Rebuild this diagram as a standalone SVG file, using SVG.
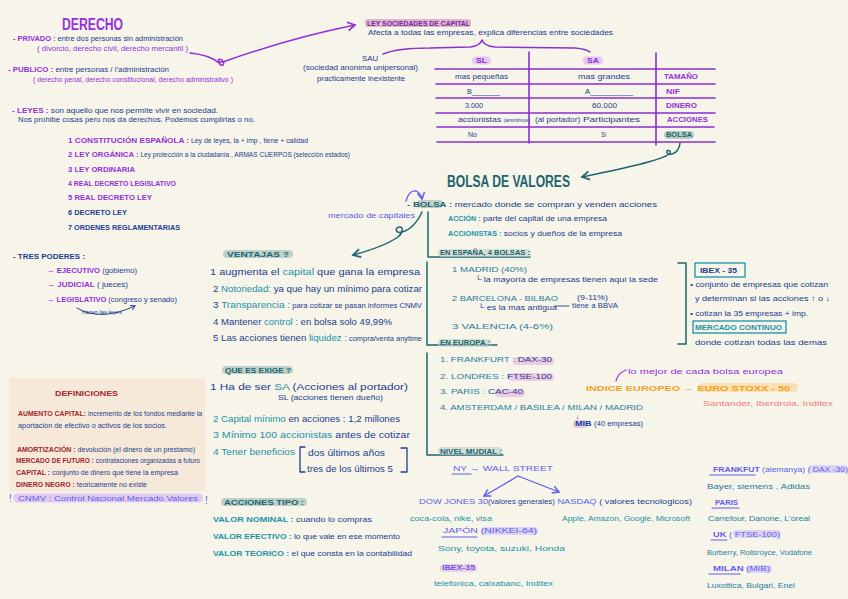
<svg xmlns="http://www.w3.org/2000/svg" width="848" height="599" viewBox="0 0 848 599">
<defs>
<style>
text{font-family:"Liberation Sans",Arial,sans-serif;font-size:7.5px;fill:#22408f}
.p{fill:#9330dc}.n{fill:#22408f}.t{fill:#1c6571}.c{fill:#1b93a8}.tb{fill:#1e80a2}.v{fill:#5d5ff0}.o{fill:#f3a01e}.s{fill:#f2807c}.r{fill:#a3262b}.dp{fill:#7a2b8c}
.b{font-weight:bold}
.sm{font-size:6.3px}
.m{font-size:8.2px}
.ln{fill:none;stroke-linecap:round;stroke-linejoin:round}
.tab{stroke:#8a2fd0;stroke-width:1.6}
.tl{stroke:#1c6571;stroke-width:1.5}
.hg{fill:#bfd0c8}
.hp{fill:#efcbe4}
.hl{fill:#e3c9f2}
</style>
<marker id="aP" viewBox="0 0 10 10" refX="8" refY="5" markerWidth="7" markerHeight="7" orient="auto"><path d="M1,1 L8,5 L1,9" fill="none" stroke="#9330dc" stroke-width="1.6"/></marker>
<marker id="aT" viewBox="0 0 10 10" refX="8" refY="5" markerWidth="7" markerHeight="7" orient="auto"><path d="M1,1 L8,5 L1,9" fill="none" stroke="#1c6571" stroke-width="1.6"/></marker>
<marker id="aV" viewBox="0 0 10 10" refX="8" refY="5" markerWidth="7" markerHeight="7" orient="auto"><path d="M1,1 L8,5 L1,9" fill="none" stroke="#5d5ff0" stroke-width="1.6"/></marker>
<marker id="aN" viewBox="0 0 10 10" refX="8" refY="5" markerWidth="6" markerHeight="6" orient="auto"><path d="M1,1 L8,5 L1,9" fill="none" stroke="#22408f" stroke-width="1.6"/></marker>
</defs>
<rect width="848" height="599" fill="#f7f4e9"/>

<g id="connectors">
<path class="ln" stroke="#9330dc" stroke-width="1.5" d="M190,53 Q210,55 219,63 C222,68 226,64 222,60 C218,57 216,63 223,62 Q290,38 355,25" marker-end="url(#aP)"/>
<path class="ln" stroke="#8a2fd0" stroke-width="1.5" d="M383,54 Q398,48 430,48 L470,47 Q480,46 482,40 Q484,46 495,47 L575,48 Q586,49 590,52"/>
<path class="ln tl" d="M680,143 C679,151 674,155 669,154 C665,153 667,149 670,151 C674,157 640,165 582,177" marker-end="url(#aT)"/>
<path class="ln" stroke="#5d5ff0" stroke-width="1.3" d="M406,201 Q409,190 416,191 Q421,193 422,199" marker-end="url(#aV)"/>
<path class="ln tl" d="M422,212 C418,222 410,230 402,232 C396,234 394,228 399,227 C404,226 403,233 398,237 C385,246 368,251 353,255" marker-end="url(#aT)"/>
<path class="ln" stroke="#22408f" stroke-width="1" d="M77,308 Q100,322 135,306" marker-end="url(#aN)"/>
<path class="ln" stroke="#5d5ff0" stroke-width="1.3" d="M518,476 L484,496" marker-end="url(#aV)"/>
<path class="ln" stroke="#5d5ff0" stroke-width="1.3" d="M518,476 L559,492" marker-end="url(#aV)"/>
<path class="ln" stroke="#9330dc" stroke-width="1.2" d="M616,381 Q618,373 626,370"/>
<path class="ln" stroke="#22408f" stroke-width="0.9" d="M555,306 L569,306"/>
</g>

<g id="derecho">
<text x="62" y="30" class="p b" style="font-size:16px" textLength="61" lengthAdjust="spacingAndGlyphs">DERECHO</text>
<text x="13" y="41" textLength="170" lengthAdjust="spacingAndGlyphs"><tspan class="p b">- PRIVADO :</tspan> entre dos personas sin administración</text>
<text x="37" y="50.5" class="p sm" textLength="151" lengthAdjust="spacingAndGlyphs">( divorcio, derecho civil, derecho mercantil )</text>
<text x="8" y="71.5" textLength="161" lengthAdjust="spacingAndGlyphs"><tspan class="p b">- PUBLICO :</tspan> entre personas / l'administración</text>
<text x="33" y="81.5" class="p sm" textLength="200" lengthAdjust="spacingAndGlyphs">( derecho penal, derecho constitucional, derecho administrativo )</text>
<text x="12" y="112.5" textLength="206" lengthAdjust="spacingAndGlyphs"><tspan class="p b">- LEYES :</tspan> son aquello que nos permite vivir en sociedad.</text>
<text x="18" y="121.5" textLength="237" lengthAdjust="spacingAndGlyphs">Nos prohibe cosas pero nos da derechos. Podemos cumplirlas o no.</text>
<text x="68" y="142.5" textLength="240" lengthAdjust="spacingAndGlyphs"><tspan class="p b">1   CONSTITUCIÓN ESPAÑOLA :</tspan><tspan class="sm"> Ley de leyes, la + imp ,  tiene + calidad</tspan></text>
<text x="68" y="157" textLength="282" lengthAdjust="spacingAndGlyphs"><tspan class="p b">2   LEY ORGÁNICA :</tspan><tspan class="sm"> Ley protección a la ciudadanía , ARMAS CUERPOS (selección estados)</tspan></text>
<text x="68" y="171.5" class="p b" textLength="67" lengthAdjust="spacingAndGlyphs">3   LEY ORDINARIA</text>
<text x="68" y="186" class="p b" textLength="108" lengthAdjust="spacingAndGlyphs">4   REAL DECRETO LEGISLATIVO</text>
<text x="68" y="200" class="p b" textLength="84" lengthAdjust="spacingAndGlyphs">5   REAL DECRETO LEY</text>
<text x="68" y="214.5" class="n b" textLength="59" lengthAdjust="spacingAndGlyphs">6   DECRETO LEY</text>
<text x="68" y="229.5" class="n b" textLength="112" lengthAdjust="spacingAndGlyphs">7   ORDENES REGLAMENTARIAS</text>
</g>

<g id="poderes">
<text x="13" y="258.5" class="n b" textLength="72" lengthAdjust="spacingAndGlyphs">- TRES PODERES :</text>
<text x="47" y="272.5" textLength="90" lengthAdjust="spacingAndGlyphs"><tspan class="p b">→ EJECUTIVO</tspan> (gobierno)</text>
<text x="47" y="287" textLength="81" lengthAdjust="spacingAndGlyphs"><tspan class="p b">→ JUDICIAL</tspan> ( jueces)</text>
<text x="47" y="301.5" textLength="130" lengthAdjust="spacingAndGlyphs"><tspan class="p b">→ LEGISLATIVO</tspan> (congreso y senado)</text>
<text x="82" y="314" style="font-size:4.5px" textLength="40" lengthAdjust="spacingAndGlyphs">hacen las leyes</text>
</g>

<g id="definiciones">
<rect x="9" y="378" width="196" height="113" fill="#f6e9d9"/>
<text x="55" y="395.5" class="r b" style="font-size:8px" textLength="63" lengthAdjust="spacingAndGlyphs">DEFINICIONES</text>
<text x="18" y="415.5" class="sm" textLength="184" lengthAdjust="spacingAndGlyphs"><tspan class="r b">AUMENTO CAPITAL:</tspan> incremento de los fondos mediante la</text>
<text x="18" y="427.5" class="sm" textLength="149" lengthAdjust="spacingAndGlyphs">aportación de efectivo o activos de los socios.</text>
<text x="17" y="451.5" class="sm" textLength="178" lengthAdjust="spacingAndGlyphs"><tspan class="r b">AMORTIZACIÓN :</tspan>  devolución (el dinero de un prestamo)</text>
<text x="16" y="463" class="sm" textLength="184" lengthAdjust="spacingAndGlyphs"><tspan class="r b">MERCADO DE FUTURO :</tspan> contrataciones organizadas a futuro</text>
<text x="16" y="475" class="sm" textLength="162" lengthAdjust="spacingAndGlyphs"><tspan class="r b">CAPITAL :</tspan> conjunto de dinero que tiene la empresa</text>
<text x="16" y="486.5" class="sm" textLength="131" lengthAdjust="spacingAndGlyphs"><tspan class="r b">DINERO NEGRO :</tspan> teoricamente no existe</text>
<rect x="13" y="493.5" width="190" height="9" rx="4.5" fill="#e2cbef"/>
<text x="9" y="502" class="v" style="font-size:10px">!</text>
<text x="18" y="501" class="v" textLength="180" lengthAdjust="spacingAndGlyphs">CNMV :  Control Nacional Mercado Valores</text>
<text x="205" y="504" class="v" style="font-size:10px">!</text>
</g>

<g id="ley-sociedades">
<rect x="365" y="19" width="106" height="8" rx="3" fill="#dcb5d6"/>
<text x="367" y="25.5" class="dp b" textLength="103" lengthAdjust="spacingAndGlyphs">LEY SOCIEDADES DE CAPITAL</text>
<text x="368" y="34.5" textLength="245" lengthAdjust="spacingAndGlyphs">Afecta a todas las empresas, explica diferencias entre sociedades</text>
</g>

<g id="sau">
<text x="362" y="60.5" class="n" textLength="16" lengthAdjust="spacingAndGlyphs">SAU</text>
<text x="303" y="69.5" textLength="115" lengthAdjust="spacingAndGlyphs">(sociedad anonima unipersonal)</text>
<text x="317" y="80.5" textLength="88" lengthAdjust="spacingAndGlyphs">practicamente inexistente</text>
</g>

<g id="tabla">
<g class="ln tab">
<path d="M529,52 V143 M656,53 V145"/>
<path d="M435,69 H715 M436,84 H715 M436,98 H715 M436,113 H715 M437,127 H714 M437,142 H715"/>
</g>
<rect x="472" y="56.5" width="19" height="8" rx="4" fill="#e6c8f0"/>
<rect x="583" y="56.5" width="20" height="8" rx="4" fill="#e6c8f0"/>
<text x="476" y="62.5" class="p b" textLength="11" lengthAdjust="spacingAndGlyphs">SL</text>
<text x="587" y="62.5" class="p b" textLength="12" lengthAdjust="spacingAndGlyphs">SA</text>
<text x="455" y="79" textLength="53" lengthAdjust="spacingAndGlyphs">mas pequeñas</text>
<text x="578" y="79" textLength="52" lengthAdjust="spacingAndGlyphs">mas grandes</text>
<text x="664" y="79" class="p b" textLength="34" lengthAdjust="spacingAndGlyphs">TAMAÑO</text>
<text x="467" y="93.5" textLength="33" lengthAdjust="spacingAndGlyphs">B_______</text>
<text x="585" y="93.5" textLength="48" lengthAdjust="spacingAndGlyphs">A__________</text>
<text x="666" y="93.5" class="p b" textLength="14" lengthAdjust="spacingAndGlyphs">NIF</text>
<text x="465" y="108" textLength="18" lengthAdjust="spacingAndGlyphs">3.000</text>
<text x="592" y="108" textLength="25" lengthAdjust="spacingAndGlyphs">60.000</text>
<text x="666" y="108" class="p b" textLength="31" lengthAdjust="spacingAndGlyphs">DINERO</text>
<text x="458" y="122" textLength="72" lengthAdjust="spacingAndGlyphs">accionistas <tspan style="font-size:4.5px">(anonimos)</tspan></text>
<text x="535" y="122" textLength="105" lengthAdjust="spacingAndGlyphs"><tspan class="sm">(al portador)</tspan>   Participantes</text>
<text x="667" y="122" class="p b" textLength="41" lengthAdjust="spacingAndGlyphs">ACCIONES</text>
<text x="468" y="137" textLength="9" lengthAdjust="spacingAndGlyphs">No</text>
<text x="601" y="137" textLength="5" lengthAdjust="spacingAndGlyphs">Si</text>
<rect x="664" y="131" width="30" height="8" rx="4" fill="#b9ccc6"/>
<text x="666" y="137" class="t b" textLength="26" lengthAdjust="spacingAndGlyphs">BOLSA</text>
</g>

<g id="bolsa">
<text x="447" y="187" class="t b" style="font-size:16px" textLength="123" lengthAdjust="spacingAndGlyphs">BOLSA DE VALORES</text>
<text x="328" y="217.5" class="v" textLength="87" lengthAdjust="spacingAndGlyphs">mercado de capitales</text>
<rect x="417" y="200" width="26" height="8" rx="4" class="hg"/>
<text x="407" y="206.5" textLength="250" lengthAdjust="spacingAndGlyphs"><tspan class="t b">- BOLSA :</tspan> mercado donde se compran y venden acciones</text>
<text x="448" y="221" textLength="159" lengthAdjust="spacingAndGlyphs"><tspan class="c b sm">ACCIÓN :</tspan> parte del capital de una empresa</text>
<text x="448" y="236" textLength="174" lengthAdjust="spacingAndGlyphs"><tspan class="c b sm">ACCIONISTAS :</tspan> socios y dueños de la empresa</text>
<path class="ln tl" d="M428,212 V257 H530"/>
</g>

<g id="espana">
<rect x="438" y="249" width="93" height="8" rx="3" class="hg" opacity="0.6"/>
<text x="440" y="255" class="t b" textLength="90" lengthAdjust="spacingAndGlyphs">EN ESPAÑA, 4 BOLSAS :</text>
<path class="ln tl" d="M427,262 V345 H497"/>
<text x="452" y="272" class="tb" textLength="75" lengthAdjust="spacingAndGlyphs">1   MADRID   (40%)</text>
<text x="475" y="282" textLength="183" lengthAdjust="spacingAndGlyphs">└ la mayoría de empresas tienen aquí la sede</text>
<text x="452" y="301" class="tb" textLength="106" lengthAdjust="spacingAndGlyphs">2   BARCELONA - BILBAO</text>
<text x="577" y="299.5" textLength="31" lengthAdjust="spacingAndGlyphs">(9-11%)</text>
<text x="478" y="310" textLength="79" lengthAdjust="spacingAndGlyphs">└ es la mas antigua</text>
<text x="572" y="308" class="sm" textLength="46" lengthAdjust="spacingAndGlyphs">tiene a BBVA</text>
<text x="452" y="329" class="tb" textLength="101" lengthAdjust="spacingAndGlyphs">3   VALENCIA   (4-6%)</text>
<rect x="438" y="339" width="53" height="8" rx="3" class="hg" opacity="0.6"/>
<text x="440" y="344.5" class="t b" textLength="50" lengthAdjust="spacingAndGlyphs">EN EUROPA :</text>
</g>

<g id="ibex">
<path class="ln tl" d="M678,263 H686 V344 H678"/>
<rect x="695" y="263" width="50" height="14" fill="none" stroke="#1b93a8" stroke-width="1.3"/>
<text x="700" y="272.5" class="n b" textLength="37" lengthAdjust="spacingAndGlyphs">IBEX - 35</text>
<text x="690" y="287" textLength="138" lengthAdjust="spacingAndGlyphs">• conjunto de empresas que cotizan</text>
<text x="695" y="301" textLength="135" lengthAdjust="spacingAndGlyphs">y determinan si las acciones ↑ o ↓</text>
<text x="690" y="315.5" textLength="118" lengthAdjust="spacingAndGlyphs">• cotizan la 35 empresas + imp.</text>
<rect x="693" y="321" width="93" height="12" fill="none" stroke="#1b93a8" stroke-width="1.3"/>
<text x="695" y="330" class="c b" textLength="87" lengthAdjust="spacingAndGlyphs">MERCADO CONTINUO</text>
<text x="695" y="344.5" textLength="132" lengthAdjust="spacingAndGlyphs">donde cotizan todas las demas</text>
</g>

<g id="europa">
<path class="ln tl" d="M427,353 V455 H503"/>
<rect x="513" y="357" width="41" height="8" rx="4" class="hp"/>
<text x="440" y="362" class="tb" textLength="112" lengthAdjust="spacingAndGlyphs">1. FRANKFURT :  <tspan class="n">DAX-30</tspan></text>
<rect x="508" y="373" width="46" height="8" rx="4" class="hp"/>
<text x="440" y="378.5" class="tb" textLength="112" lengthAdjust="spacingAndGlyphs">2. LONDRES :  <tspan class="n">FTSE-100</tspan></text>
<rect x="495" y="389" width="30" height="8" rx="4" class="hp"/>
<text x="440" y="394" class="tb" textLength="83" lengthAdjust="spacingAndGlyphs">3. PARIS :  <tspan class="n">CAC-40</tspan></text>
<text x="440" y="410" class="tb" textLength="203" lengthAdjust="spacingAndGlyphs">4. AMSTERDAM / BASILEA / MILAN / MADRID</text>
<text x="576" y="419" class="n sm">↓</text>
<rect x="573" y="420" width="15" height="8" rx="4" class="hl"/>
<text x="575" y="425.5" textLength="68" lengthAdjust="spacingAndGlyphs"><tspan class="b">MIB</tspan> <tspan class="sm">(40 empresas)</tspan></text>
</g>

<g id="indice-europeo">
<text x="628" y="374" class="p" textLength="155" lengthAdjust="spacingAndGlyphs">lo mejor de cada bolsa europea</text>
<rect x="698" y="383" width="100" height="9" rx="4.5" fill="#fbe0b3"/>
<text x="586" y="390.5" class="o b" textLength="204" lengthAdjust="spacingAndGlyphs">INDICE EUROPEO  →  EURO STOXX - 50</text>
<text x="703" y="405.5" class="s" textLength="130" lengthAdjust="spacingAndGlyphs">Santander, Iberdrola, Inditex</text>
</g>

<g id="ventajas">
<rect x="223" y="250" width="70" height="8" rx="4" class="hg"/>
<text x="227" y="256.5" class="t b" textLength="62" lengthAdjust="spacingAndGlyphs">VENTAJAS ?</text>
<text x="210" y="274.5" class="m" textLength="210" lengthAdjust="spacingAndGlyphs">1  augmenta el <tspan class="c">capital</tspan> que gana la empresa</text>
<text x="213" y="291.5" class="m" textLength="209" lengthAdjust="spacingAndGlyphs">2 <tspan class="c">Notoriedad:</tspan> ya que hay un mínimo para cotizar</text>
<text x="213" y="307.5" class="m" textLength="209" lengthAdjust="spacingAndGlyphs">3 <tspan class="c">Transparencia :</tspan><tspan class="sm"> para cotizar se pasan informes CNMV</tspan></text>
<text x="213" y="324.5" class="m" textLength="179" lengthAdjust="spacingAndGlyphs">4 Mantener <tspan class="c">control :</tspan>  en bolsa  solo 49,99%</text>
<text x="213" y="341" class="m" textLength="209" lengthAdjust="spacingAndGlyphs">5 Las acciones tienen <tspan class="c">liquidez :</tspan><tspan class="sm"> compra/venta anytime</tspan></text>
</g>

<g id="exige">
<rect x="222" y="366" width="71" height="8" rx="4" class="hg"/>
<text x="225" y="372.5" class="t b" textLength="66" lengthAdjust="spacingAndGlyphs">QUE ES  EXIGE ?</text>
<text x="210" y="389.5" class="m" textLength="198" lengthAdjust="spacingAndGlyphs">1  Ha de ser <tspan class="c">SA</tspan>  (Acciones al portador)</text>
<text x="278" y="399.5" class="sm" textLength="105" lengthAdjust="spacingAndGlyphs">SL (acciones tienen dueño)</text>
<text x="213" y="421.5" class="m c" textLength="187" lengthAdjust="spacingAndGlyphs">2  Capital mínimo <tspan class="n">en acciones : 1,2 millones</tspan></text>
<text x="213" y="437.5" class="m c" textLength="197" lengthAdjust="spacingAndGlyphs">3  Mínimo 100 accionistas <tspan class="n">antes de cotizar</tspan></text>
<text x="213" y="454.5" class="m c" textLength="82" lengthAdjust="spacingAndGlyphs">4  Tener beneficios</text>
<path class="ln" stroke="#22408f" stroke-width="1.3" d="M305,447 H300 V472 H305 M401,448 H407 V472 H401"/>
<text x="308" y="455.5" class="m" textLength="77" lengthAdjust="spacingAndGlyphs">dos últimos años</text>
<text x="307" y="471.5" class="m" textLength="86" lengthAdjust="spacingAndGlyphs">tres de los últimos 5</text>
</g>

<g id="acciones-tipo">
<rect x="221" y="498" width="86" height="8" rx="4" class="hg"/>
<text x="224" y="504.5" class="t b" textLength="80" lengthAdjust="spacingAndGlyphs">ACCIONES TIPO :</text>
<text x="213" y="521.5" textLength="159" lengthAdjust="spacingAndGlyphs"><tspan class="c b">VALOR NOMINAL :</tspan>  cuando lo compras</text>
<text x="213" y="538.5" textLength="187" lengthAdjust="spacingAndGlyphs"><tspan class="c b">VALOR EFECTIVO :</tspan>  lo que vale en ese momento</text>
<text x="213" y="555.5" textLength="199" lengthAdjust="spacingAndGlyphs"><tspan class="c b">VALOR TEORICO :</tspan>  el que consta en la contabilidad</text>
</g>

<g id="mundial">
<rect x="438" y="447" width="64" height="8" rx="3" class="hg" opacity="0.6"/>
<text x="440" y="453.5" class="t b" textLength="62" lengthAdjust="spacingAndGlyphs">NIVEL MUDIAL :</text>
<text x="453" y="471" class="v" textLength="100" lengthAdjust="spacingAndGlyphs">NY  →  WALL  STREET</text>
<path class="ln" stroke="#5d5ff0" stroke-width="1.2" d="M452,474 H471"/>
<text x="419" y="503.5" textLength="273" lengthAdjust="spacingAndGlyphs"><tspan class="v">DOW JONES 30</tspan><tspan class="sm">(valores generales)</tspan> <tspan class="v">NASDAQ</tspan> ( valores tecnologicos)</text>
<text x="410" y="520.5" class="c sm" textLength="82" lengthAdjust="spacingAndGlyphs">coca-cola, nike, visa</text>
<text x="562" y="520.5" class="c sm" textLength="128" lengthAdjust="spacingAndGlyphs">Apple, Amazon, Google, Microsoft</text>
<rect x="481" y="527" width="57" height="8" rx="4" fill="#ddd3f6"/>
<text x="443" y="532.5" class="v" textLength="94" lengthAdjust="spacingAndGlyphs">JAPÓN    (NIKKEI-64)</text>
<path class="ln" stroke="#5d5ff0" stroke-width="1.2" d="M442,537 H477"/>
<text x="438" y="551" class="c" textLength="127" lengthAdjust="spacingAndGlyphs">Sony, toyota, suzuki, Honda</text>
<rect x="440" y="564" width="37" height="8" rx="4" class="hp"/>
<text x="442" y="569.5" class="v b" textLength="33" lengthAdjust="spacingAndGlyphs">IBEX-35</text>
<text x="434" y="586" class="c" textLength="119" lengthAdjust="spacingAndGlyphs">telefonica, caixabanc, Inditex</text>
</g>

<g id="empresas-europa">
<rect x="808" y="465" width="40" height="8" rx="4" fill="#ddd3f6"/>
<text x="713" y="471.5" class="v" textLength="135" lengthAdjust="spacingAndGlyphs"><tspan class="b">FRANKFUT</tspan>  (alemanya) ( DAX -30)</text>
<path class="ln" stroke="#5d5ff0" stroke-width="1.2" d="M710,475 H755"/>
<text x="707" y="488.5" class="tb" textLength="103" lengthAdjust="spacingAndGlyphs">Bayer, siemens , Adidas</text>
<text x="715" y="504.5" class="v b" textLength="23" lengthAdjust="spacingAndGlyphs">PARIS</text>
<path class="ln" stroke="#5d5ff0" stroke-width="1.2" d="M712,508 H739"/>
<text x="708" y="520.5" class="tb sm" textLength="102" lengthAdjust="spacingAndGlyphs">Carrefour, Danone, L'oreal</text>
<rect x="733" y="530" width="48" height="8" rx="4" fill="#ddd3f6"/>
<text x="713" y="536.5" class="v" textLength="67" lengthAdjust="spacingAndGlyphs"><tspan class="b">UK</tspan>    ( FTSE-100)</text>
<path class="ln" stroke="#5d5ff0" stroke-width="1.2" d="M711,540 H727"/>
<text x="707" y="554.5" class="tb sm" textLength="105" lengthAdjust="spacingAndGlyphs">Burberry, Rollsroyce, Vodafone</text>
<rect x="746" y="565" width="26" height="8" rx="4" fill="#ddd3f6"/>
<text x="713" y="570.5" class="v" textLength="57" lengthAdjust="spacingAndGlyphs"><tspan class="b">MILAN</tspan>    (MIB)</text>
<path class="ln" stroke="#5d5ff0" stroke-width="1.2" d="M709,574 H740"/>
<text x="707" y="587.5" class="tb sm" textLength="88" lengthAdjust="spacingAndGlyphs">Luxottica, Bulgari, Enel</text>
</g>
</svg>
